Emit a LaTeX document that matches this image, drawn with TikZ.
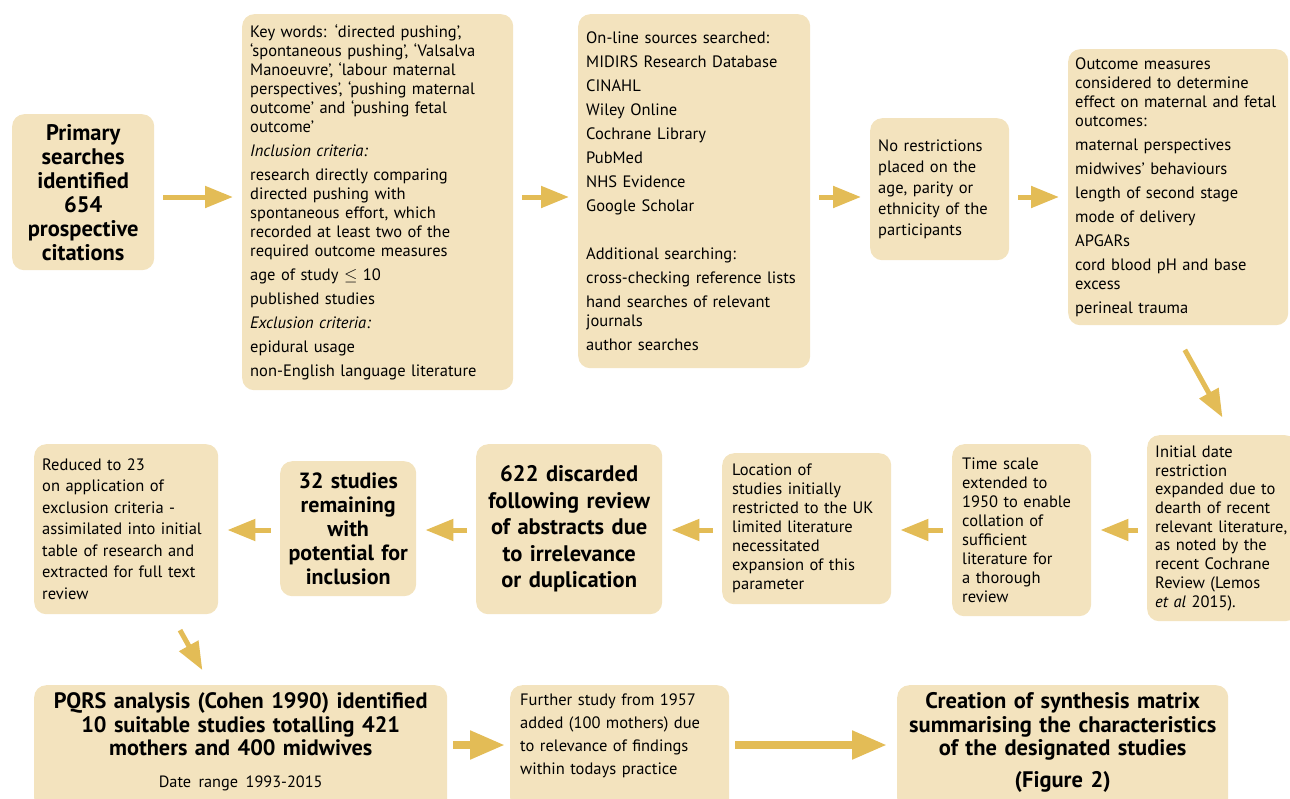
\documentclass[tikz,border=0pt]{standalone}
\usepackage{fontspec}
\setmainfont{PT Sans}
\usetikzlibrary{arrows.meta, positioning}
\definecolor{boxFill}{HTML}{F3E3BE}
\definecolor{arrGold}{HTML}{E3BC56}

\begin{document}
\begin{tikzpicture}[x=1pt, y=-1pt,
        box/.style={fill=boxFill, rounded corners=12pt, anchor=north west, align=left,
                    inner xsep=8pt, inner ysep=6pt, text=black,
                    font=\fontsize{16.5}{19}\selectfont},
        hdr/.style={box, align=center, font=\fontsize{22.5}{24}\selectfont\bfseries},
        arr/.style={arrGold, line width=5pt, -{Triangle[length=28pt, width=21pt]},
                    shorten <=9pt, shorten >=9pt},
        bigarr/.style={arrGold, line width=8pt, -{Triangle[length=35pt, width=27pt]}}]
        \useasboundingbox (0,0) rectangle (1290,798);
        \clip (0,0) rectangle (1290,798);
        \coordinate (rowa) at (0,197);
        \coordinate (rowb) at (0,530);
        \coordinate (rowc) at (0,745);
        % top row
        \node[hdr, text width=128pt, minimum height=156pt, inner xsep=7pt] (prim) at (12,114)
          {Primary\\searches\\identified\\654\\prospective\\citations};
        \node[box, text width=255pt, minimum height=376pt] (keyw) at (242,14)
          {Key words: ‘directed pushing’,\\
           ‘spontaneous pushing’, ‘Valsalva\\
           Manoeuvre’, ‘labour maternal\\
           perspectives’, ‘pushing maternal\\
           outcome’ and ‘pushing fetal\\
           outcome’\\[5pt]
           \textit{Inclusion criteria:}\\[5pt]
           research directly comparing\\
           directed pushing with\\
           spontaneous effort, which\\
           recorded at least two of the\\
           required outcome measures\\[5pt]
           age of study $\leq$ 10\\[5pt]
           published studies\\[5pt]
           \textit{Exclusion criteria:}\\[5pt]
           epidural usage\\[5pt]
           non-English language literature};
        \node[box, text width=216pt, minimum height=354pt] (onl) at (578,14)
          {On-line sources searched:\\[5pt]
           MIDIRS Research Database\\[5pt]
           CINAHL\\[5pt]
           Wiley Online\\[5pt]
           Cochrane Library\\[5pt]
           PubMed\\[5pt]
           NHS Evidence\\[5pt]
           Google Scholar\\[29pt]
           Additional searching:\\[5pt]
           cross-checking reference lists\\[5pt]
           hand searches of relevant\\
           journals\\[5pt]
           author searches};
        \node[box, text width=123pt, minimum height=142pt,
              font=\fontsize{16.5}{21}\selectfont] (norest) at (870,118)
          {No restrictions\\placed on the\\age, parity or\\ethnicity of the\\participants};
        \node[box, text width=206pt, minimum height=276pt, inner xsep=7pt] (outc) at (1068,49)
          {Outcome measures\\
           considered to determine\\
           effect on maternal and fetal\\
           outcomes:\\[5pt]
           maternal perspectives\\[5pt]
           midwives’ behaviours\\[5pt]
           length of second stage\\[5pt]
           mode of delivery\\[5pt]
           APGARs\\[5pt]
           cord blood pH and base\\
           excess\\[5pt]
           perineal trauma};
        % middle row
        \node[box, text width=134pt, minimum height=186pt,
              font=\fontsize{16.5}{18.7}\selectfont] (init) at (1147,435)
          {Initial date\\restriction\\expanded due to\\dearth of recent\\relevant literature,\\
           as noted by the\\recent Cochrane\\Review (Lemos\\\textit{et al} 2015).};
        \node[box, text width=119pt, minimum height=172pt, inner xsep=10pt] (times) at (952,444)
          {Time scale\\extended to\\1950 to enable\\collation of\\sufficient\\literature for\\
           a thorough\\review};
        \node[box, text width=149pt, minimum height=151pt, inner xsep=10pt] (loc) at (722,453)
          {Location of\\studies initially\\restricted to the UK\\limited literature\\
           necessitated\\expansion of this\\parameter};
        \node[hdr, text width=170pt, minimum height=170pt,
              font=\fontsize{22.5}{26.5}\selectfont\bfseries] (disc) at (476,444)
          {622 discarded\\following review\\of abstracts due\\to irrelevance\\or duplication};
        \node[hdr, text width=122pt, minimum height=135pt, inner xsep=7pt,
              font=\fontsize{22}{24}\selectfont\bfseries] (stud) at (280,461)
          {32 studies\\remaining\\with\\potential for\\inclusion};
        \node[box, text width=168pt, minimum height=170pt,
              font=\fontsize{16.5}{21.5}\selectfont] (red) at (34,444)
          {Reduced to 23\\on application of\\exclusion criteria -\\assimilated into initial\\
           table of research and\\extracted for full text\\review};
        % bottom row
        \node[hdr, text width=401pt, minimum height=125pt, inner xsep=6pt,
              font=\fontsize{22.3}{23.5}\selectfont\bfseries] (pqrs) at (34,685)
          {PQRS analysis (Cohen 1990) identified\\10 suitable studies totalling 421\\
           mothers and 400 midwives\\[8pt]
           {\mdseries\fontsize{16.3}{18}\selectfont Date range 1993-2015}\\[-8pt]\mbox{}};
        \node[box, text width=199pt, minimum height=125pt, inner xsep=10pt,
              font=\fontsize{16.5}{23}\selectfont] (furth) at (510,685)
          {Further study from 1957\\added (100 mothers) due\\to relevance of findings\\
           within todays practice\\[4pt]\mbox{}};
        \node[hdr, text width=321pt, minimum height=125pt, inner xsep=5pt,
              font=\fontsize{22.5}{23.5}\selectfont\bfseries] (creat) at (897,685)
          {Creation of synthesis matrix\\summarising the characteristics\\
           of the designated studies\\[8pt](Figure 2)\\[-8pt]\mbox{}};
        % arrows
        \foreach \a/\b in {prim/keyw, keyw/onl, onl/norest, norest/outc}
          \draw[arr] (\a.east |- rowa) -- (\b.west |- rowa);
        \draw[arr, shorten <=28pt, shorten >=20pt]
          ([xshift=-7pt]outc.south) -- ([xshift=10pt]init.north);
        \foreach \a/\b in {init/times, times/loc, loc/disc, disc/stud, stud/red}
          \draw[arr] (\a.west |- rowb) -- (\b.east |- rowb);
        \draw[arr, shorten <=18pt, shorten >=17pt]
          ([xshift=45pt]red.south) -- ([xshift=-30pt]pqrs.north);
        \draw[bigarr, shorten <=6pt, shorten >=5pt] (pqrs.east |- rowc) -- (furth.west |- rowc);
        \draw[bigarr, shorten <=6pt, shorten >=10pt] (furth.east |- rowc) -- (creat.west |- rowc);
      \end{tikzpicture}
\end{document}
